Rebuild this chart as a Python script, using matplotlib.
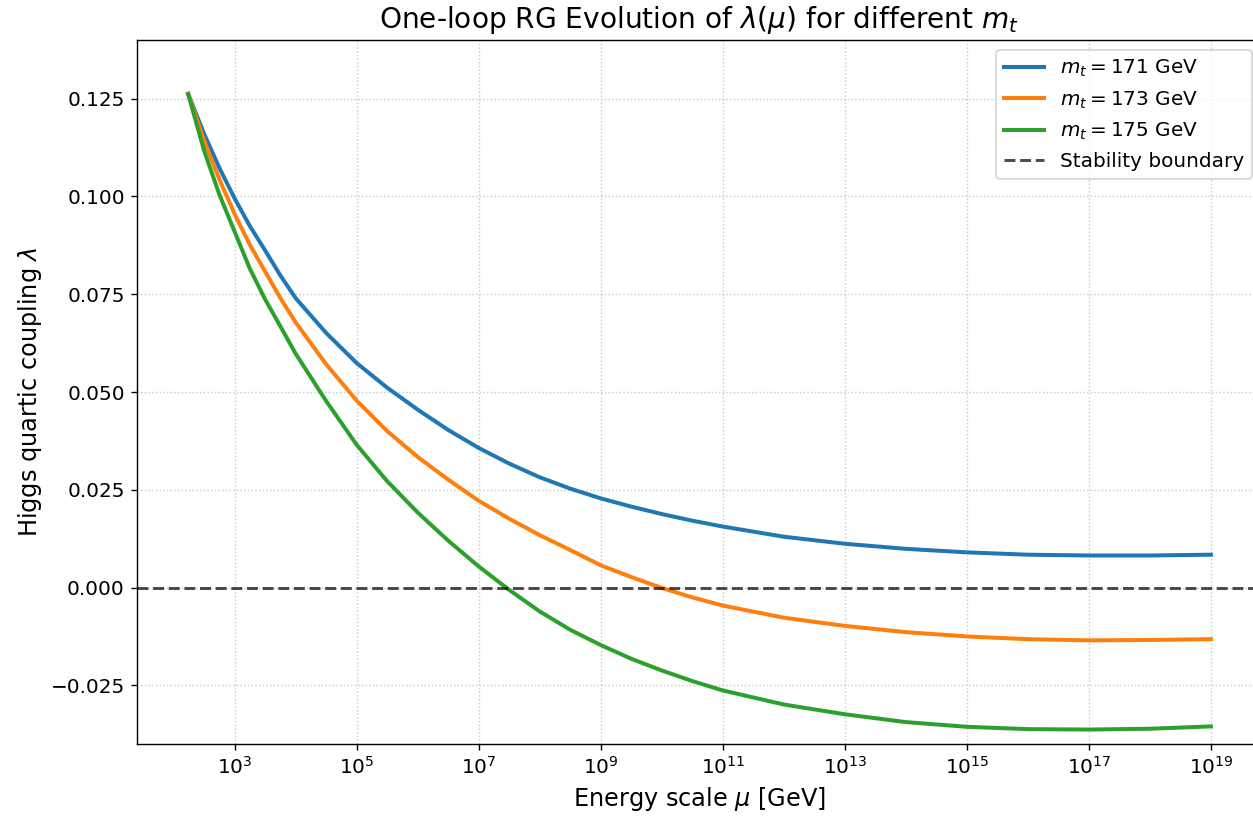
import numpy as np
import matplotlib
matplotlib.use("Agg")
import matplotlib.pyplot as plt
from matplotlib.ticker import NullLocator

# energy scale points (GeV)
mu = [173, 3.16e2, 5.62e2, 1e3, 1.78e3, 3.16e3, 5.62e3, 1e4, 3.16e4, 1e5, 3.16e5,
      1e6, 3.16e6, 1e7, 3.16e7, 1e8, 3.16e8, 1e9, 3.16e9, 1e10, 3.16e10, 1e11,
      1e12, 1e13, 1e14, 1e15, 1e16, 1e17, 1e18, 1e19]

top_masses = [171, 173, 175]

lam_171 = [0.1262, 0.1160, 0.1073, 0.0995, 0.0924, 0.0862, 0.0798, 0.0740, 0.0651,
           0.0574, 0.0511, 0.0455, 0.0403, 0.0357, 0.0317, 0.0282, 0.0253, 0.0228,
           0.0207, 0.0188, 0.0171, 0.0156, 0.0130, 0.0112, 0.0099, 0.0090, 0.0084,
           0.0082, 0.0082, 0.0084]
lam_173 = [0.1262, 0.1143, 0.1044, 0.0955, 0.0876, 0.0808, 0.0740, 0.0678, 0.0571,
           0.0478, 0.0400, 0.0334, 0.0276, 0.0222, 0.0176, 0.0134, 0.0096, 0.0057,
           0.0027, -0.0001, -0.0025, -0.0046, -0.0077, -0.0098, -0.0114, -0.0125,
           -0.0132, -0.0135, -0.0134, -0.0132]
lam_175 = [0.1262, 0.1117, 0.1005, 0.0910, 0.0815, 0.0737, 0.0668, 0.0598, 0.0477,
           0.0365, 0.0272, 0.0192, 0.0120, 0.0054, -0.0006, -0.0061, -0.0108, -0.0147,
           -0.0182, -0.0212, -0.0239, -0.0263, -0.0299, -0.0324, -0.0344, -0.0356,
           -0.0362, -0.0363, -0.0361, -0.0355]

xticks = [1e3, 1e5, 1e7, 1e9, 1e11, 1e13, 1e15, 1e17, 1e19]

plt.rcParams["xtick.labelsize"] = 11.5
plt.rcParams["ytick.labelsize"] = 11.5
plt.rcParams["legend.fontsize"] = 11.5

fig = plt.figure(figsize=(1253 / 125, 823 / 125), dpi=125)
ax = fig.add_axes([137 / 1253, 1 - 744 / 823, 1125 / 1253, 704 / 823])

for mt, lam in zip(top_masses, [lam_171, lam_173, lam_175]):
    ax.plot(mu, lam, lw=2.3, label=f"$m_t = {mt}$ GeV")

ax.axhline(0, color="k", ls="--", alpha=0.7, lw=1.7, label="Stability boundary")

ax.set_xscale("log")
ax.set_xticks(xticks)
ax.xaxis.set_minor_locator(NullLocator())
ax.set_ylim(-0.04, 0.14)
ax.grid(True, ls=":", alpha=0.7)

ax.set_xlabel(r"Energy scale $\mu$ [GeV]", fontsize=13.8)
ax.set_ylabel(r"Higgs quartic coupling $\lambda$", fontsize=13.8)
ax.set_title(r"One-loop RG Evolution of $\lambda(\mu)$ for different $m_t$",
             fontsize=16.1, pad=7)
ax.legend(loc="upper right")

fig.savefig("out.png", dpi=125)
